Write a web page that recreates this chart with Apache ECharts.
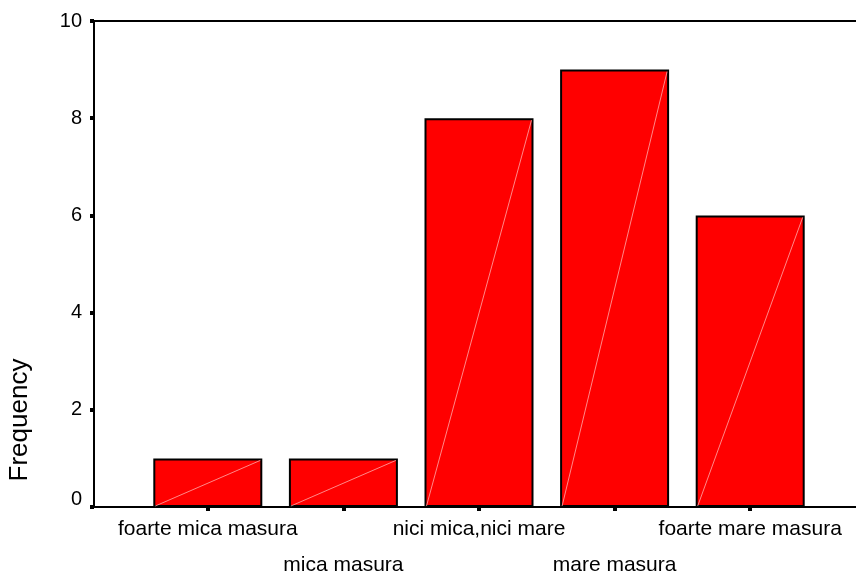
<!DOCTYPE html>
<html>
<head>
<meta charset="utf-8">
<script src="https://cdn.jsdelivr.net/npm/echarts@6/dist/echarts.min.js"></script>
<style>html,body{margin:0;padding:0;background:#fff;}#c{width:856px;height:573px;}</style>
</head>
<body>
<div id="c"></div>
<script>
var categories = ['foarte mica masura', 'mica masura', 'nici mica,nici mare', 'mare masura', 'foarte mare masura'];
var frequencies = [1, 1, 8, 9, 6];
var yTicks = [0, 2, 4, 6, 8, 10];
var yName = 'Frequency';

var FONT = 'Arial, "Liberation Sans", sans-serif';
var chart = echarts.init(document.getElementById('c'), null, {renderer: 'canvas'});
var option = {
  animation: false,
  backgroundColor: '#ffffff',
  grid: [
    {left: 94, right: 0, top: 21, bottom: 66, outerBoundsMode: 'none', containLabel: false},
    {left: 140, right: 38, top: 21, bottom: 66, outerBoundsMode: 'none', containLabel: false}
  ],
  xAxis: [
    {gridIndex: 0, type: 'value', position: 'bottom', min: 0, max: 1,
      axisLine: {show: true, lineStyle: {color: '#000', width: 2}},
      axisTick: {show: false}, axisLabel: {show: false}, splitLine: {show: false}},
    {gridIndex: 0, type: 'value', position: 'top', min: 0, max: 1,
      axisLine: {show: true, lineStyle: {color: '#000', width: 2}},
      axisTick: {show: false}, axisLabel: {show: false}, splitLine: {show: false}},
    {gridIndex: 1, type: 'category', data: categories, position: 'bottom',
      axisLine: {show: false},
      axisTick: {show: true, alignWithLabel: true, length: 4, lineStyle: {color: '#000', width: 4}},
      axisLabel: {show: true, interval: 0, color: '#000', fontFamily: FONT, fontSize: 21, margin: 4, lineHeight: 36,
        formatter: function (v, i) { return i % 2 ? '\n' + v : v; }},
      splitLine: {show: false}}
  ],
  yAxis: [
    {gridIndex: 0, type: 'value', min: yTicks[0], max: yTicks[yTicks.length - 1], interval: 2,
      axisLine: {show: true, lineStyle: {color: '#000', width: 2}},
      axisTick: {show: true, length: 4, lineStyle: {color: '#000', width: 4}},
      axisLabel: {color: '#000', fontFamily: FONT, fontSize: 20, margin: 12,
        formatter: function (v) { return v === 0 ? '{z|0}' : String(v); },
        rich: {z: {fontFamily: FONT, fontSize: 20, color: '#000', padding: [0, 0, 16, 0]}}},
      splitLine: {show: false}},
    {gridIndex: 1, type: 'value', min: yTicks[0], max: yTicks[yTicks.length - 1], interval: 2,
      show: false, splitLine: {show: false}}
  ],
  series: [
    {type: 'bar', xAxisIndex: 2, yAxisIndex: 1, data: frequencies, barWidth: 109,
      itemStyle: {color: '#ff0000', borderColor: '#000', borderWidth: 2}, z: 2},
    {type: 'custom', xAxisIndex: 2, yAxisIndex: 1, data: frequencies.map(function (v, i) { return [i, v]; }), z: 3,
      silent: true,
      renderItem: function (params, api) {
        var top = api.coord([api.value(0), api.value(1)]);
        var base = api.coord([api.value(0), 0]);
        var half = 109 / 2 - 2;
        return {type: 'line', shape: {x1: base[0] - half, y1: base[1] - 1, x2: top[0] + half, y2: top[1] + 2},
          style: {stroke: 'rgba(255,170,170,0.8)', lineWidth: 1}};
      }}
  ],
  graphic: [
    {type: 'text', x: 20, y: 420, rotation: Math.PI / 2,
      style: {text: yName, fontFamily: FONT, fontSize: 26, fill: '#000', align: 'center', verticalAlign: 'middle'}}
  ]
};
chart.setOption(option);
</script>
</body>
</html>
